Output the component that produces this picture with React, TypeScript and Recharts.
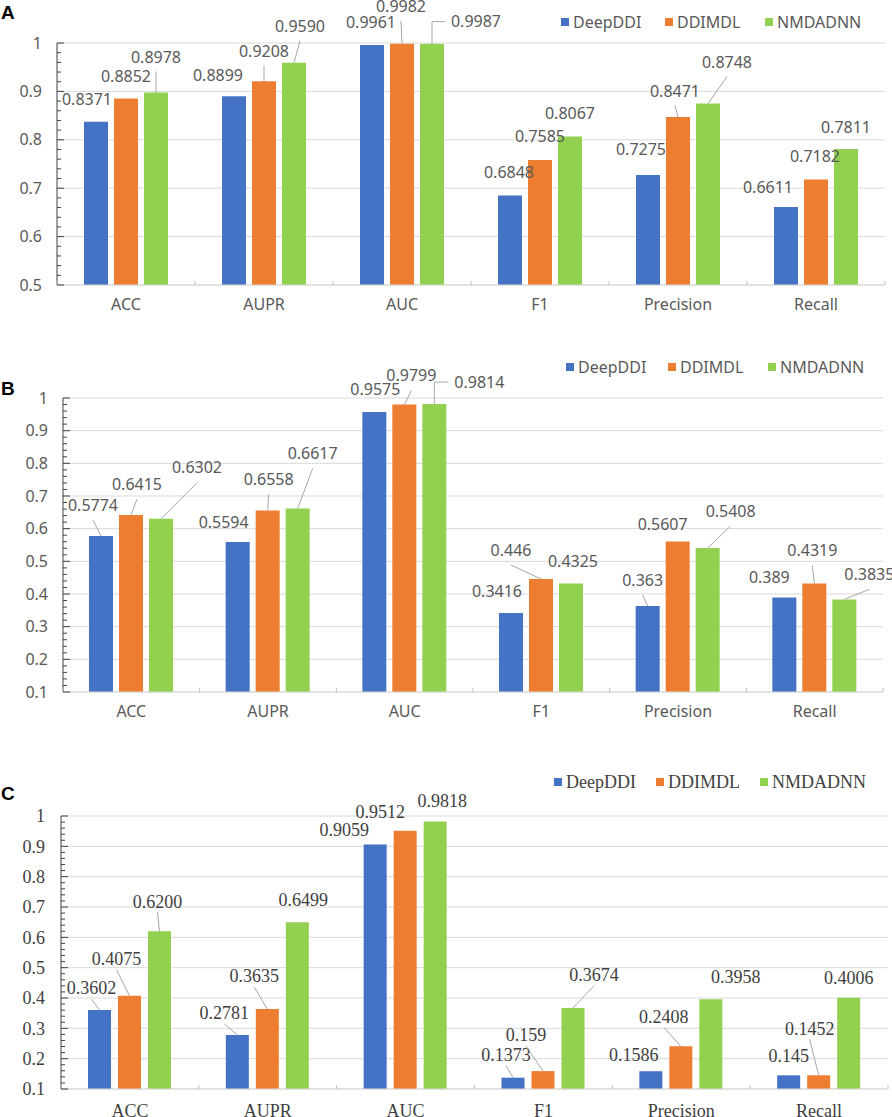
import { Bar, BarChart, CartesianGrid, LabelList, XAxis, YAxis } from 'recharts';

const categories = ['ACC', 'AUPR', 'AUC', 'F1', 'Precision', 'Recall'];
const seriesNames = ['DeepDDI', 'DDIMDL', 'NMDADNN'];
const seriesKeys = ['deepddi', 'ddimdl', 'nmdadnn'];
const colors = ['#4472C4', '#ED7D31', '#92D050'];

// panel A
const deepddiA = ['0.8371', '0.8899', '0.9961', '0.6848', '0.7275', '0.6611'];
const ddimdlA = ['0.8852', '0.9208', '0.9982', '0.7585', '0.8471', '0.7182'];
const nmdadnnA = ['0.8978', '0.9590', '0.9987', '0.8067', '0.8748', '0.7811'];
const yTicksA = ['0.5', '0.6', '0.7', '0.8', '0.9', '1'];

// panel B
const deepddiB = ['0.5774', '0.5594', '0.9575', '0.3416', '0.363', '0.389'];
const ddimdlB = ['0.6415', '0.6558', '0.9799', '0.446', '0.5607', '0.4319'];
const nmdadnnB = ['0.6302', '0.6617', '0.9814', '0.4325', '0.5408', '0.3835'];
const yTicksB = ['0.1', '0.2', '0.3', '0.4', '0.5', '0.6', '0.7', '0.8', '0.9', '1'];

// panel C
const deepddiC = ['0.3602', '0.2781', '0.9059', '0.1373', '0.1586', '0.145'];
const ddimdlC = ['0.4075', '0.3635', '0.9512', '0.159', '0.2408', '0.1452'];
const nmdadnnC = ['0.6200', '0.6499', '0.9818', '0.3674', '0.3958', '0.4006'];
const yTicksC = ['0.1', '0.2', '0.3', '0.4', '0.5', '0.6', '0.7', '0.8', '0.9', '1'];

// label placement relative to bar top: [dx, dy, leader] (0 none, 1 straight, 2 elbow)
const labelPosA = [
  [[-9, -22, 0], [-16, -21, 0], [-1, -22, 0], [-1, -23, 0], [-7, -25, 0], [-18, -20, 0]],
  [[0, -22, 0], [0, -30, 1], [-1, -37, 1], [0, -23, 0], [-3, -26, 1], [-1, -23, 0]],
  [[0, -35, 1], [6, -36, 1], [44, -22, 2], [0, -23, 0], [19, -41, 1], [0, -22, 0]],
];
const labelPosB = [
  [[-8, -31, 1], [-14, -20, 0], [1, -22, 0], [-14, -22, 0], [-5, -26, 1], [-15, -20, 0]],
  [[6, -31, 1], [1, -31, 1], [7, -29, 1], [-30, -29, 1], [-15, -17, 0], [-2, -33, 1]],
  [[36, -51, 1], [15, -55, 1], [45, -22, 2], [2, -22, 0], [23, -37, 1], [25, -25, 1]],
];
const labelPosC = [
  [[-8, -22, 1], [-13, -22, 1], [-31, -15, 0], [-7, -23, 1], [-17, -17, 0], [0, -20, 0]],
  [[-13, -37, 1], [-13, -33, 1], [-25, -19, 0], [-17, -36, 1], [-17, -30, 1], [-9, -47, 1]],
  [[-2, -30, 1], [6, -22, 0], [7, -21, 0], [21, -33, 1], [25, -23, 0], [0, -20, 0]],
];

const SANS = "'Noto Sans', 'DejaVu Sans', sans-serif";
const SERIF = "'Liberation Serif', 'Times New Roman', serif";

const minorTicks = (lo: number, hi: number) => {
  const out: number[] = [];
  for (let i = Math.round(lo * 50); i <= Math.round(hi * 50); i++) out.push(i / 50);
  return out;
};

function YTick(props: any) {
  const { x, y, payload, labels, gap, font, size, color } = props;
  const v = Math.round(payload.value * 100);
  const major = labels.find((l: string) => Math.round(Number(l) * 100) === v);
  return (
    <g>
      <line x1={x} x2={x + (major ? 7 : 4)} y1={y} y2={y} stroke="#404040" strokeWidth={1} />
      {major && (
        <text x={x - gap} y={y} dy="0.35em" textAnchor="end" fontFamily={font} fontSize={size} fill={color}>
          {major}
        </text>
      )}
    </g>
  );
}

function XTick(props: any) {
  const { x, y, payload, index, band, count, gap, font, size, color } = props;
  return (
    <g>
      <line x1={x - band / 2} x2={x - band / 2} y1={y} y2={y - 4} stroke="#BFBFBF" />
      {index === count - 1 && <line x1={x + band / 2} x2={x + band / 2} y1={y} y2={y - 4} stroke="#BFBFBF" />}
      <text x={x} y={y + gap} dy="0.71em" textAnchor="middle" fontFamily={font} fontSize={size} fill={color}>
        {payload.value}
      </text>
    </g>
  );
}

function makeLabel(texts: string[], pos: number[][], font: string, size: number, color: string, lead: number) {
  return (props: any) => {
    const vb = props.viewBox && typeof props.viewBox.x === 'number' ? props.viewBox : props;
    const i = props.index;
    const bx = vb.x + vb.width / 2;
    const by = vb.y;
    const [dx, dy, kind] = pos[i];
    const lx = bx + dx;
    const ly = by + dy;
    const half = size * 1.5;
    return (
      <g>
        {kind === 1 && <line x1={lx} y1={ly + lead} x2={bx} y2={by} stroke="#A6A6A6" />}
        {kind === 2 && (
          <polyline points={`${bx},${by} ${bx},${ly} ${lx - half - 7},${ly}`} fill="none" stroke="#A6A6A6" />
        )}
        <text x={lx} y={ly} dy="0.35em" textAnchor="middle" fontFamily={font} fontSize={size} fill={color}>
          {texts[i]}
        </text>
      </g>
    );
  };
}

interface PanelProps {
  top: number;
  height: number;
  margin: { top: number; right: number; bottom: number; left: number };
  yWidth: number;
  xHeight: number;
  domain: [number, number];
  yTicks: string[];
  series: string[][];
  pos: number[][][];
  font: string;
  size: number;
  color: string;
  barSize: number;
  barGap: number;
  yGap: number;
  xGap: number;
  lead: number;
}

function Panel(p: PanelProps) {
  const data = categories.map((name, i) => {
    const row: any = { name };
    seriesKeys.forEach((k, s) => (row[k] = Number(p.series[s][i])));
    return row;
  });
  const plotW = 892 - p.margin.left - p.margin.right - p.yWidth;
  const band = plotW / categories.length;
  const major = p.yTicks.map(Number);
  return (
    <div style={{ position: 'absolute', left: 0, top: p.top }}>
      <BarChart width={892} height={p.height} data={data} margin={p.margin} barSize={p.barSize} barGap={p.barGap}>
        <CartesianGrid vertical={false} horizontalValues={major} stroke="#D9D9D9" />
        <XAxis
          dataKey="name"
          interval={0}
          height={p.xHeight}
          axisLine={{ stroke: '#D9D9D9' }}
          tickLine={false}
          tickSize={0}
          tickMargin={0}
          tick={<XTick band={band} count={categories.length} gap={p.xGap} font={p.font} size={p.size} color={p.color} />}
        />
        <YAxis
          type="number"
          domain={p.domain}
          ticks={minorTicks(p.domain[0], p.domain[1])}
          interval={0}
          width={p.yWidth}
          axisLine={{ stroke: '#404040' }}
          tickLine={false}
          tickSize={0}
          tickMargin={0}
          tick={<YTick labels={p.yTicks} gap={p.yGap} font={p.font} size={p.size} color={p.color} />}
        />
        {seriesKeys.map((k, s) => (
          <Bar key={k} dataKey={k} fill={colors[s]} isAnimationActive={false}>
            <LabelList dataKey={k} content={makeLabel(p.series[s], p.pos[s], p.font, p.size, p.color, p.lead)} />
          </Bar>
        ))}
      </BarChart>
    </div>
  );
}

function Legend({ y, xs, gap, font, size, color }: any) {
  return (
    <g>
      {seriesNames.map((n, s) => (
        <g key={n}>
          <rect x={xs[s]} y={y - 4} width={8} height={8} fill={colors[s]} />
          <text x={xs[s] + gap} y={y} dy="0.35em" fontFamily={font} fontSize={size} fill={color}>
            {n}
          </text>
        </g>
      ))}
    </g>
  );
}

export default function App() {
  return (
    <div style={{ position: 'absolute', left: 0, top: 0, width: 892, height: 1117, background: '#fff' }}>
      <Panel
        top={0}
        height={320}
        margin={{ top: 43, right: 7, bottom: 0, left: 0 }}
        yWidth={57}
        xHeight={35}
        domain={[0.5, 1]}
        yTicks={yTicksA}
        series={[deepddiA, ddimdlA, nmdadnnA]}
        pos={labelPosA}
        font={SANS}
        size={16}
        color="#595959"
        barSize={24}
        barGap={6}
        yGap={15}
        xGap={14}
        lead={14}
      />
      <Panel
        top={330}
        height={400}
        margin={{ top: 68, right: 9, bottom: 0, left: 0 }}
        yWidth={63}
        xHeight={38}
        domain={[0.1, 1]}
        yTicks={yTicksB}
        series={[deepddiB, ddimdlB, nmdadnnB]}
        pos={labelPosB}
        font={SANS}
        size={16}
        color="#595959"
        barSize={24}
        barGap={6}
        yGap={15}
        xGap={14}
        lead={15}
      />
      <Panel
        top={760}
        height={357}
        margin={{ top: 56, right: 4, bottom: 0, left: 0 }}
        yWidth={61}
        xHeight={28}
        domain={[0.1, 1]}
        yTicks={yTicksC}
        series={[deepddiC, ddimdlC, nmdadnnC]}
        pos={labelPosC}
        font={SERIF}
        size={18}
        color="#404040"
        barSize={23}
        barGap={7}
        yGap={16}
        xGap={15}
        lead={11}
      />
      <svg width={892} height={1117} style={{ position: 'absolute', left: 0, top: 0, pointerEvents: 'none' }}>
        <text x={1} y={19} fontFamily="'Liberation Sans', Arial, sans-serif" fontWeight="bold" fontSize={19} fill="#000">
          A
        </text>
        <text x={1} y={395} fontFamily="'Liberation Sans', Arial, sans-serif" fontWeight="bold" fontSize={19} fill="#000">
          B
        </text>
        <text x={1} y={800} fontFamily="'Liberation Sans', Arial, sans-serif" fontWeight="bold" fontSize={19} fill="#000">
          C
        </text>
        <Legend y={22} xs={[561, 665, 765]} gap={12} font={SANS} size={16} color="#595959" />
        <Legend y={367} xs={[566, 668, 768]} gap={12} font={SANS} size={16} color="#595959" />
        <Legend y={782} xs={[554, 656, 760]} gap={12} font={SERIF} size={18} color="#404040" />
      </svg>
    </div>
  );
}
